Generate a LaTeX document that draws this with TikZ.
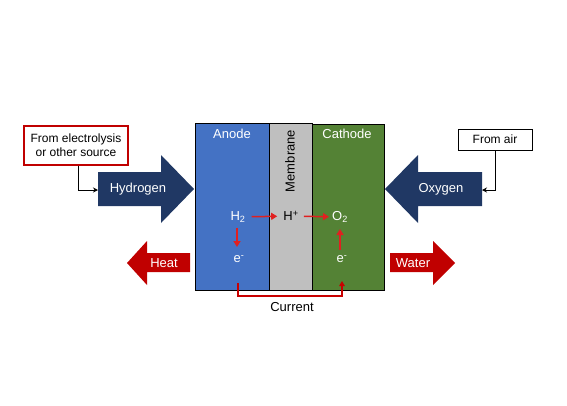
\documentclass[tikz,border=0pt]{standalone}
\usepackage{fontspec}
\setmainfont{Liberation Sans}
\usetikzlibrary{arrows.meta}
\definecolor{anodeblue}{HTML}{4472C4}
\definecolor{membgray}{HTML}{BFBFBF}
\definecolor{cathgreen}{HTML}{548235}
\definecolor{navy}{HTML}{203864}
\definecolor{darkred}{HTML}{C00000}
\definecolor{arrred}{HTML}{E02020}
\tikzset{
  big/.style={font=\fontsize{13}{15}\selectfont, inner sep=0pt},
  small/.style={font=\fontsize{12}{14}\selectfont, inner sep=0pt, align=center},
  panel/.style={draw=black, line width=0.8pt, anchor=north west, inner sep=0pt},
  redarr/.style={draw=arrred, line width=1.5pt, -{Triangle[length=6pt,width=7pt]}},
  curline/.style={draw=darkred!85!red, line width=1.2pt, -{Triangle[length=5pt,width=5.5pt]}},
  feed/.style={draw=black, line width=1pt, -{Stealth[length=5pt,width=5pt]}},
}
\begin{document}
\begin{tikzpicture}[x=1pt,y=-1pt]
\useasboundingbox (0,0) rectangle (567,405);
% cell panels
\node[panel, fill=anodeblue, minimum width=74pt, minimum height=167pt] (anode) at (195,123) {};
\node[panel, fill=membgray, minimum width=43pt, minimum height=167pt] (memb) at (269,123) {};
\node[panel, fill=cathgreen, minimum width=72pt, minimum height=166pt] (cath) at (312,124) {};
\node[big, text=white] (anodelbl) at (232,134) {Anode};
\node[big, text=white] (cathlbl) at (347,134) {Cathode};
\node[big, rotate=90] (memblbl) at (290,161) {Membrane};
% species
\node[big, text=white] (h2) at (238,217) {H\textsubscript{2}};
\node[big] (hp) at (291,216) {H\textsuperscript{+}};
\node[big, text=white] (o2) at (340,217) {O\textsubscript{2}};
\node[big, text=white] (ea) at (239,259) {e\textsuperscript{-}};
\node[big, text=white] (ec) at (342,259) {e\textsuperscript{-}};
\draw[redarr, shorten <=6pt, shorten >=6pt] (h2) -- (hp);
\draw[redarr, shorten <=5pt, shorten >=3pt] (hp) -- (o2);
\draw[redarr] ([yshift=-5pt]h2.south -| 237,0) -- (237,247);
\coordinate (ectop) at (340,250);
\coordinate (o2bot) at (340,229);
\draw[redarr] (ectop) -- (o2bot);
% current
\coordinate (cur1) at (238,283);
\coordinate (cur2) at (342,281);
\draw[curline] (cur1) -- (238,296) -| (cur2);
\node[big] (curlbl) at (292,307) {Current};
% hydrogen arrow
\fill[navy] (98,172) -- (161,172) -- (161,155) -- (194,189) -- (161,223) -- (161,206) -- (98,206) -- cycle;
\node[big, text=white] (hyd) at (138,189) {Hydrogen};
% oxygen arrow
\fill[navy] (482,172) -- (418,172) -- (418,155) -- (385,189) -- (418,223) -- (418,206) -- (482,206) -- cycle;
\node[big, text=white] (oxy) at (441,189) {Oxygen};
% heat arrow
\fill[darkred] (190,253) -- (147,253) -- (147,241) -- (127,263) -- (147,285) -- (147,272) -- (190,272) -- cycle;
\node[big, text=white] (heat) at (164,263) {Heat};
% water arrow
\fill[darkred] (390,253) -- (433,253) -- (433,241) -- (455,263) -- (433,285) -- (433,272) -- (390,272) -- cycle;
\node[big, text=white] (water) at (413,263) {Water};
% sources
\node[small, draw=darkred, line width=1.2pt, minimum width=104pt, minimum height=39pt, fill=white] (src) at (76,145.5) {From electrolysis\\or other source};
\node[small, draw=black, line width=0.8pt, minimum width=74pt, minimum height=21pt, fill=white] (air) at (495,139.5) {From air};
\coordinate (hin) at (98,190);
\coordinate (oin) at (482,190);
\draw[feed] ([xshift=2pt]src.south) |- (hin);
\draw[feed] (air.south) |- (oin);
\end{tikzpicture}
\end{document}
